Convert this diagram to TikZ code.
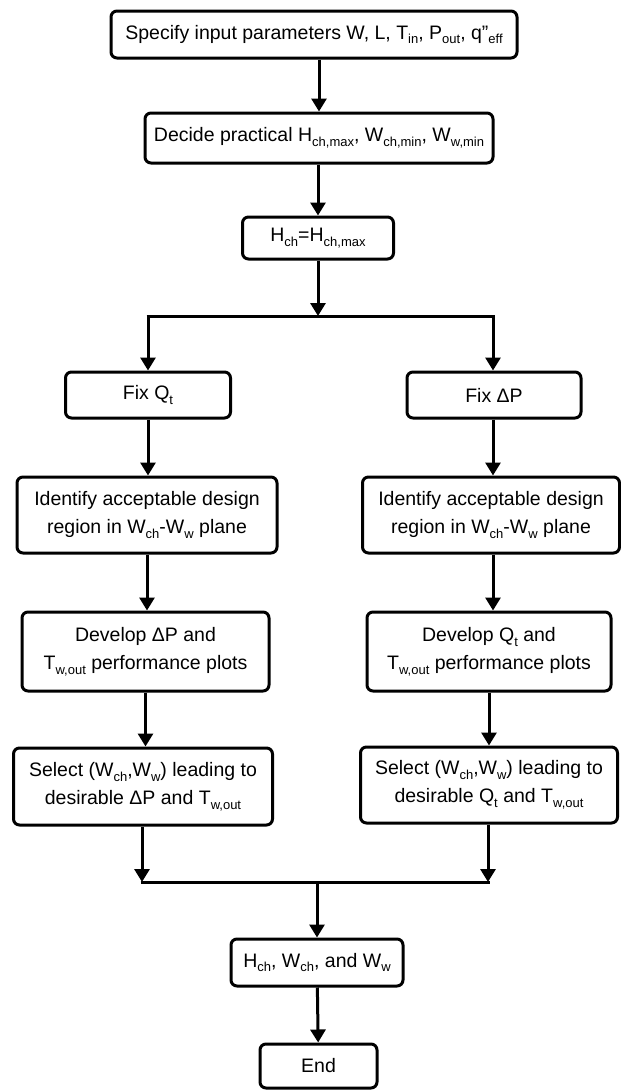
\documentclass[tikz,border=0pt]{standalone}
\usepackage{fontspec}
\setmainfont{Liberation Sans}
\usetikzlibrary{arrows.meta,positioning}

\newcommand{\lo}[1]{\raisebox{-0.45ex}{\fontsize{13}{13}\selectfont #1}}

\tikzset{
  stepbox/.style={draw, line width=3pt, rounded corners=6pt, align=center,
    inner sep=2pt, font=\fontsize{19.5}{28}\selectfont},
  flow/.style={line width=3pt, -{Triangle[width=15pt,length=13pt]}},
  link/.style={line width=3pt}
}

\begin{document}
\begin{tikzpicture}[x=1pt, y=-1pt]
  \useasboundingbox (0,0) rectangle (621,1090);

  % main trunk
  \node[stepbox, minimum width=406, minimum height=47] (spec) at (314,34.5)
    {Specify input parameters W, L, T\lo{in}, P\lo{out}, q"\lo{eff}};
  \node[stepbox, minimum width=348, minimum height=50] (decide) at (319,138)
    {Decide practical H\lo{ch,max}, W\lo{ch,min}, W\lo{w,min}};
  \node[stepbox, minimum width=151, minimum height=42] (hmax) at (318,238)
    {H\lo{ch}=H\lo{ch,max}};

  % left branch
  \node[stepbox, minimum width=165, minimum height=46] (fixq) at (148,395) {Fix Q\lo{t}};
  \node[stepbox, minimum width=260, minimum height=76] (idl) at (147,515)
    {Identify acceptable design\\region in W\lo{ch}-W\lo{w} plane};
  \node[stepbox, minimum width=247, minimum height=79] (devl) at (145.5,651.5)
    {Develop ΔP and\\T\lo{w,out} performance plots};
  \node[stepbox, minimum width=259, minimum height=77] (sell) at (143,786.5)
    {Select (W\lo{ch},W\lo{w}) leading to\\desirable ΔP and T\lo{w,out}};

  % right branch
  \node[stepbox, minimum width=174, minimum height=46] (fixp) at (494,395) {Fix ΔP};
  \node[stepbox, minimum width=257, minimum height=76] (idr) at (491,515)
    {Identify acceptable design\\region in W\lo{ch}-W\lo{w} plane};
  \node[stepbox, minimum width=244, minimum height=79] (devr) at (489,651.5)
    {Develop Q\lo{t} and\\T\lo{w,out} performance plots};
  \node[stepbox, minimum width=257, minimum height=76] (selr) at (489,785)
    {Select (W\lo{ch},W\lo{w}) leading to\\desirable Q\lo{t} and T\lo{w,out}};

  % result
  \node[stepbox, minimum width=172, minimum height=47] (result) at (317,962.5)
    {H\lo{ch}, W\lo{ch}, and W\lo{w}};
  \node[stepbox, minimum width=117, minimum height=44] (stop) at (318.5,1066) {End};

  % split and merge points
  \coordinate (splitl) at (148,316);
  \coordinate (splitr) at (493,316);
  \coordinate (mergel) at (142,882);
  \coordinate (merger) at (488,882);

  \draw[flow] (spec.south -| decide) -- (decide);
  \draw[flow] (decide.south -| hmax) -- (hmax);
  \draw[flow] (hmax) -- (hmax |- splitl);
  \draw[link] ([xshift=-1.5pt]splitl) -- ([xshift=1.5pt]splitr);
  \draw[flow] ([yshift=-1.5pt]splitl) -- (splitl |- fixq.north);
  \draw[flow] ([yshift=-1.5pt]splitr) -- (splitr |- fixp.north);

  \draw[flow] (fixq.south) -- (fixq.south |- idl.north);
  \draw[flow] (idl.south) -- (idl.south |- devl.north);
  \draw[flow] (devl.south) -- (devl.south |- sell.north);
  \draw[flow] (sell.south -| mergel) -- (mergel);

  \draw[flow] (fixp.south -| splitr) -- (splitr |- idr.north);
  \draw[flow] (idr.south -| splitr) -- (splitr |- devr.north);
  \draw[flow] (devr.south) -- (devr.south |- selr.north);
  \draw[flow] (selr.south -| merger) -- (merger);

  \draw[link] ([xshift=-1.5pt]mergel) -- ([xshift=1.5pt]merger);
  \draw[flow] (result |- mergel) -- (result);
  \draw[flow] (result) -- (stop);
\end{tikzpicture}
\end{document}
